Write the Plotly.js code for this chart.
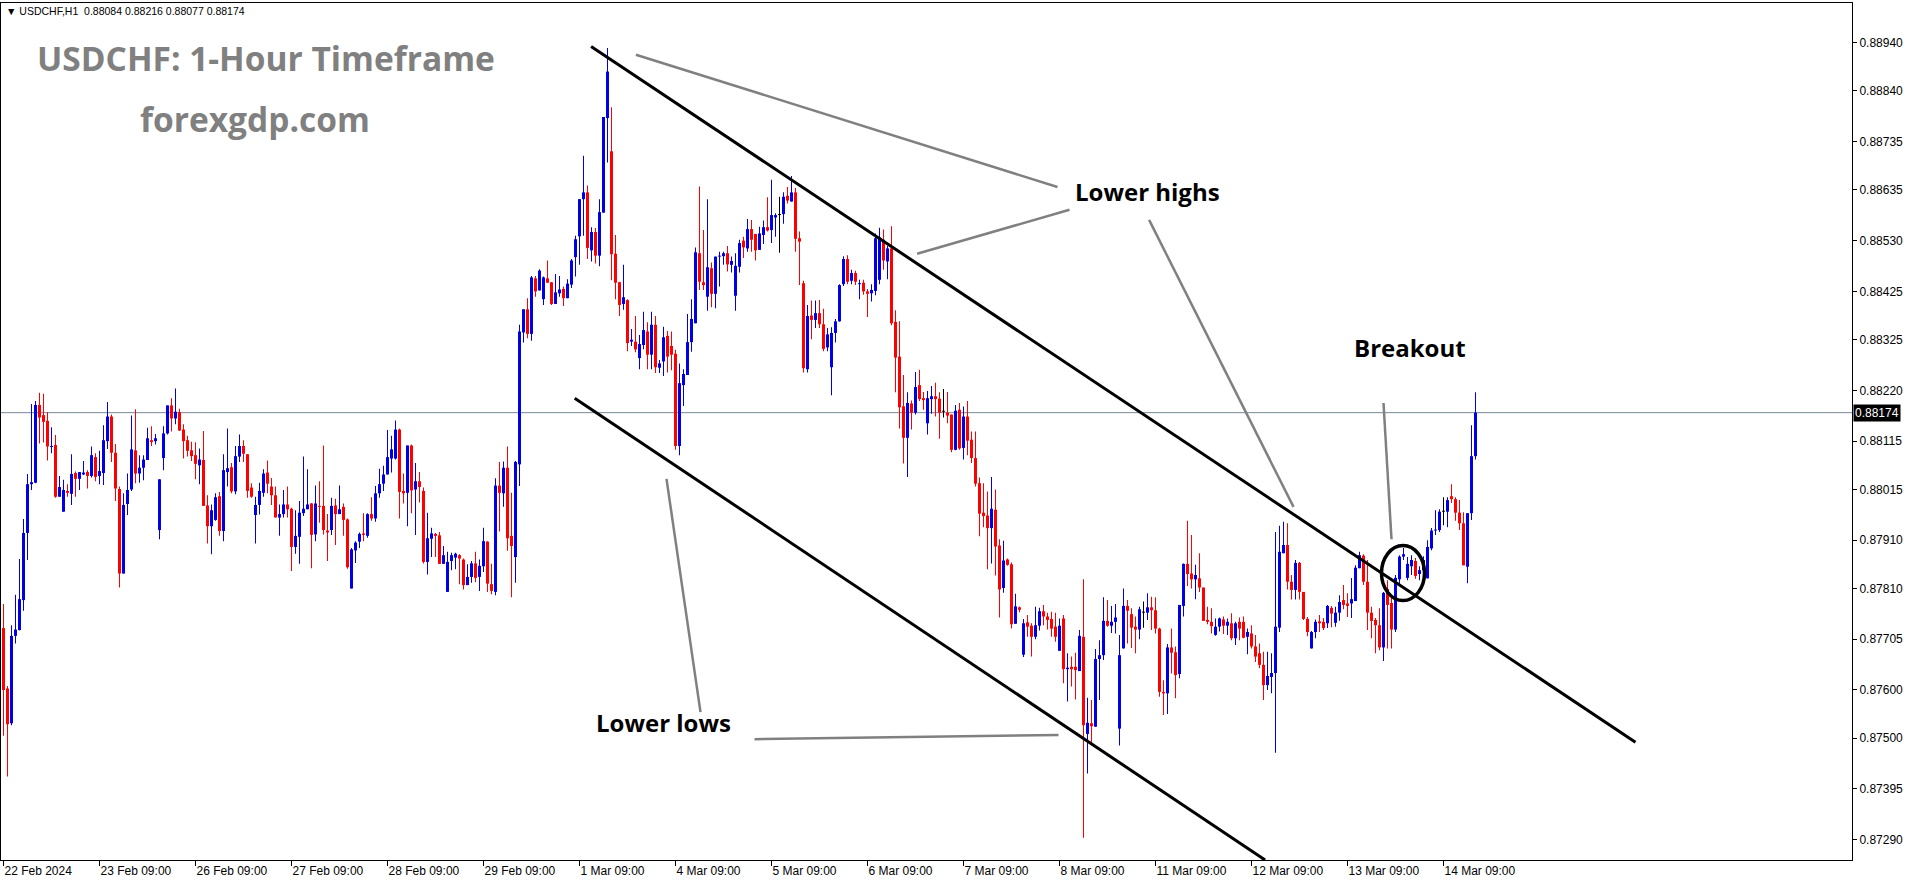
<!DOCTYPE html>
<html>
<head>
<meta charset="utf-8">
<script src="https://cdn.plot.ly/plotly-3.0.1.min.js"></script>
<style>
html,body{margin:0;padding:0;background:#ffffff;overflow:hidden}
#chart{width:1916px;height:884px}
</style>
</head>
<body>
<div id="chart"></div>
<script>
// ---- USDCHF H1 candles (22 Feb 2024 09:00 -> 14 Mar 2024) ----
const openP = [
0.87728,0.87603,0.87531,0.87712,0.87724,0.87786,0.87925,0.88026,0.88029,0.88190,0.88169,0.88157,
0.88103,0.88107,0.88000,0.87969,0.88012,0.88006,0.88049,0.88037,0.88046,0.88051,0.88043,0.88082,
0.88043,0.88049,0.88115,0.88166,0.88091,0.88016,0.87841,0.87985,0.88015,0.88096,0.88048,0.88060,
0.88076,0.88117,0.88115,0.87931,0.88080,0.88131,0.88189,0.88162,0.88175,0.88139,0.88117,0.88096,
0.88086,0.88065,0.88076,0.87982,0.87939,0.87952,0.88001,0.87929,0.88051,0.88061,0.88011,0.88083,
0.88105,0.88088,0.88019,0.87962,0.87983,0.88008,0.88050,0.88021,0.88003,0.87957,0.87964,0.87984,
0.87975,0.87896,0.87917,0.87966,0.87974,0.87986,0.87922,0.87981,0.87981,0.87930,0.87931,0.87982,
0.87964,0.87979,0.87953,0.87810,0.87889,0.87907,0.87924,0.87919,0.87964,0.87955,0.88007,0.88027,
0.88046,0.88079,0.88079,0.88139,0.88012,0.88008,0.88106,0.88015,0.88032,0.88012,0.87865,0.87913,
0.87923,0.87920,0.87861,0.87803,0.87867,0.87874,0.87879,0.87870,0.87817,0.87834,0.87862,0.87834,
0.87856,0.87907,0.87819,0.87803,0.88023,0.88007,0.88060,0.87919,0.87875,0.88067,0.88340,0.88388,
0.88337,0.88452,0.88427,0.88409,0.88452,0.88444,0.88399,0.88421,0.88430,0.88411,0.88439,0.88496,
0.88539,0.88616,0.88630,0.88510,0.88548,0.88499,0.88588,0.88784,0.88715,0.88503,0.88444,0.88399,
0.88407,0.88321,0.88321,0.88287,0.88314,0.88342,0.88294,0.88356,0.88267,0.88280,0.88333,0.88312,
0.88296,0.88105,0.88231,0.88252,0.88320,0.88359,0.88504,0.88444,0.88414,0.88473,0.88420,0.88497,
0.88498,0.88504,0.88480,0.88416,0.88476,0.88530,0.88514,0.88554,0.88544,0.88511,0.88542,0.88558,
0.88552,0.88578,0.88583,0.88585,0.88623,0.88611,0.88630,0.88535,0.88442,0.88264,0.88375,0.88366,
0.88380,0.88357,0.88309,0.88268,0.88339,0.88363,0.88440,0.88492,0.88447,0.88463,0.88440,0.88443,
0.88425,0.88421,0.88426,0.88449,0.88532,0.88487,0.88514,0.88362,0.88290,0.88187,0.88122,0.88193,
0.88174,0.88231,0.88204,0.88152,0.88202,0.88208,0.88203,0.88176,0.88174,0.88170,0.88097,0.88180,
0.88101,0.88166,0.88118,0.88080,0.88028,0.87967,0.87961,0.87935,0.87973,0.87899,0.87811,0.87870,
0.87860,0.87737,0.87771,0.87673,0.87740,0.87733,0.87710,0.87733,0.87763,0.87752,0.87747,0.87731,
0.87681,0.87748,0.87643,0.87648,0.87648,0.87639,0.87710,0.87509,0.87531,0.87524,0.87664,0.87672,
0.87743,0.87733,0.87741,0.87520,0.87686,0.87774,0.87757,0.87731,0.87725,0.87760,0.87760,0.87771,
0.87765,0.87727,0.87596,0.87593,0.87688,0.87678,0.87633,0.87774,0.87861,0.87841,0.87829,0.87831,
0.87812,0.87745,0.87741,0.87714,0.87731,0.87746,0.87733,0.87738,0.87707,0.87741,0.87741,0.87710,
0.87717,0.87690,0.87676,0.87652,0.87610,0.87627,0.87635,0.87729,0.87883,0.87900,0.87824,0.87807,
0.87863,0.87803,0.87747,0.87686,0.87720,0.87742,0.87741,0.87738,0.87770,0.87739,0.87760,0.87786,
0.87779,0.87779,0.87784,0.87852,0.87878,0.87824,0.87760,0.87745,0.87734,0.87688,0.87809,0.87780,
0.87725,0.87829,0.87876,0.87832,0.87856,0.87867,0.87840,0.87848,0.87831,0.87893,0.87930,0.87931,
0.87969,0.87969,0.88001,0.87995,0.87967,0.87945,0.87855,0.87966,0.88084
];
const highP = [
0.87778,0.87608,0.87734,0.87797,0.87871,0.87954,0.88047,0.88192,0.88198,0.88215,0.88213,0.88175,
0.88144,0.88128,0.88043,0.88035,0.88026,0.88088,0.88052,0.88051,0.88074,0.88055,0.88104,0.88090,
0.88095,0.88148,0.88196,0.88170,0.88109,0.88021,0.88007,0.88048,0.88168,0.88181,0.88086,0.88086,
0.88143,0.88146,0.88130,0.88036,0.88146,0.88189,0.88204,0.88224,0.88182,0.88150,0.88126,0.88114,
0.88113,0.88100,0.88136,0.88003,0.87984,0.88007,0.88010,0.88088,0.88141,0.88070,0.88105,0.88129,
0.88117,0.88088,0.88028,0.88000,0.88029,0.88057,0.88075,0.88039,0.88021,0.87984,0.88014,0.88021,
0.87977,0.87972,0.87991,0.88083,0.88057,0.87987,0.88023,0.88032,0.88106,0.87964,0.87998,0.87996,
0.88023,0.87986,0.87955,0.87894,0.87908,0.87926,0.87966,0.87966,0.87999,0.88022,0.88058,0.88064,
0.88138,0.88126,0.88158,0.88141,0.88048,0.88106,0.88108,0.88070,0.88051,0.88019,0.87967,0.87936,
0.87925,0.87927,0.87898,0.87886,0.87884,0.87884,0.87881,0.87872,0.87860,0.87867,0.87886,0.87870,
0.87936,0.87908,0.87861,0.88038,0.88072,0.88073,0.88104,0.88008,0.88074,0.88356,0.88388,0.88411,
0.88457,0.88457,0.88471,0.88456,0.88489,0.88444,0.88461,0.88457,0.88435,0.88450,0.88492,0.88540,
0.88616,0.88706,0.88644,0.88558,0.88556,0.88616,0.88786,0.88929,0.88806,0.88542,0.88445,0.88480,
0.88409,0.88347,0.88374,0.88335,0.88383,0.88361,0.88383,0.88374,0.88283,0.88352,0.88343,0.88342,
0.88304,0.88276,0.88264,0.88378,0.88409,0.88516,0.88642,0.88552,0.88616,0.88485,0.88497,0.88507,
0.88507,0.88519,0.88497,0.88504,0.88532,0.88538,0.88575,0.88573,0.88544,0.88559,0.88572,0.88620,
0.88656,0.88587,0.88621,0.88630,0.88641,0.88664,0.88639,0.88549,0.88447,0.88397,0.88406,0.88406,
0.88407,0.88389,0.88349,0.88351,0.88368,0.88440,0.88498,0.88500,0.88470,0.88468,0.88449,0.88449,
0.88430,0.88440,0.88545,0.88557,0.88553,0.88519,0.88560,0.88386,0.88363,0.88252,0.88216,0.88199,
0.88258,0.88263,0.88217,0.88219,0.88229,0.88236,0.88216,0.88223,0.88217,0.88170,0.88190,0.88194,
0.88187,0.88198,0.88135,0.88135,0.88040,0.88028,0.88011,0.88041,0.88015,0.87912,0.87909,0.87872,
0.87864,0.87799,0.87773,0.87747,0.87755,0.87738,0.87772,0.87770,0.87776,0.87760,0.87762,0.87760,
0.87748,0.87755,0.87676,0.87669,0.87677,0.87724,0.87829,0.87584,0.87579,0.87685,0.87703,0.87792,
0.87786,0.87774,0.87778,0.87714,0.87810,0.87786,0.87769,0.87752,0.87772,0.87783,0.87800,0.87793,
0.87792,0.87729,0.87620,0.87695,0.87727,0.87690,0.87776,0.87862,0.87950,0.87921,0.87859,0.87883,
0.87812,0.87772,0.87769,0.87748,0.87750,0.87752,0.87748,0.87759,0.87741,0.87750,0.87752,0.87727,
0.87734,0.87714,0.87696,0.87679,0.87679,0.87676,0.87927,0.87940,0.87948,0.87945,0.87838,0.87869,
0.87865,0.87803,0.87751,0.87722,0.87746,0.87755,0.87749,0.87776,0.87774,0.87772,0.87796,0.87817,
0.87800,0.87832,0.87858,0.87886,0.87881,0.87869,0.87772,0.87749,0.87769,0.87803,0.87827,0.87796,
0.87838,0.87879,0.87894,0.87875,0.87879,0.87873,0.87856,0.87877,0.87910,0.87935,0.87972,0.87974,
0.87999,0.87999,0.88026,0.87999,0.87993,0.87968,0.87966,0.88148,0.88216
];
const lowP = [
0.87505,0.87421,0.87527,0.87696,0.87723,0.87764,0.87869,0.88014,0.88028,0.88110,0.88112,0.88075,
0.88090,0.87998,0.88000,0.87969,0.88000,0.87983,0.88000,0.88014,0.88045,0.88017,0.88040,0.88032,
0.88026,0.88024,0.88099,0.88072,0.87991,0.87812,0.87841,0.87962,0.88012,0.88028,0.88029,0.88034,
0.88076,0.88105,0.88108,0.87912,0.88055,0.88129,0.88135,0.88150,0.88136,0.88079,0.88083,0.88074,
0.88036,0.88026,0.87981,0.87903,0.87881,0.87950,0.87919,0.87908,0.88021,0.88007,0.88005,0.88072,
0.88072,0.87998,0.87998,0.87903,0.87963,0.88000,0.88007,0.87983,0.87957,0.87919,0.87957,0.87957,
0.87846,0.87882,0.87861,0.87960,0.87974,0.87852,0.87908,0.87946,0.87922,0.87867,0.87921,0.87900,
0.87964,0.87919,0.87851,0.87810,0.87863,0.87894,0.87908,0.87915,0.87950,0.87948,0.87998,0.88012,
0.88046,0.88050,0.88077,0.87955,0.87986,0.87939,0.87966,0.87921,0.87988,0.87862,0.87839,0.87875,
0.87875,0.87861,0.87861,0.87803,0.87848,0.87850,0.87819,0.87808,0.87817,0.87822,0.87823,0.87805,
0.87844,0.87803,0.87798,0.87796,0.87928,0.87979,0.87888,0.87792,0.87822,0.88022,0.88319,0.88328,
0.88323,0.88414,0.88427,0.88397,0.88443,0.88397,0.88399,0.88414,0.88395,0.88411,0.88432,0.88456,
0.88480,0.88540,0.88492,0.88487,0.88483,0.88477,0.88588,0.88692,0.88448,0.88409,0.88374,0.88387,
0.88301,0.88312,0.88299,0.88264,0.88305,0.88264,0.88264,0.88256,0.88256,0.88250,0.88257,0.88262,
0.88097,0.88086,0.88188,0.88252,0.88300,0.88359,0.88428,0.88428,0.88385,0.88392,0.88390,0.88435,
0.88480,0.88466,0.88464,0.88385,0.88464,0.88494,0.88507,0.88507,0.88489,0.88511,0.88523,0.88549,
0.88525,0.88538,0.88505,0.88565,0.88607,0.88611,0.88507,0.88438,0.88257,0.88257,0.88326,0.88349,
0.88349,0.88301,0.88301,0.88210,0.88319,0.88362,0.88436,0.88440,0.88440,0.88438,0.88409,0.88418,
0.88372,0.88404,0.88417,0.88440,0.88470,0.88450,0.88355,0.88216,0.88141,0.88069,0.88041,0.88139,
0.88170,0.88198,0.88180,0.88129,0.88172,0.88166,0.88120,0.88164,0.88152,0.88092,0.88096,0.88097,
0.88077,0.88086,0.88070,0.88021,0.87918,0.87937,0.87850,0.87862,0.87837,0.87750,0.87801,0.87857,
0.87727,0.87737,0.87761,0.87668,0.87710,0.87669,0.87705,0.87723,0.87734,0.87725,0.87710,0.87700,
0.87681,0.87614,0.87576,0.87607,0.87580,0.87639,0.87294,0.87427,0.87489,0.87524,0.87579,0.87662,
0.87731,0.87718,0.87717,0.87485,0.87686,0.87696,0.87687,0.87676,0.87705,0.87729,0.87745,0.87724,
0.87717,0.87586,0.87548,0.87550,0.87634,0.87583,0.87624,0.87752,0.87815,0.87810,0.87788,0.87803,
0.87743,0.87736,0.87717,0.87712,0.87721,0.87716,0.87714,0.87703,0.87693,0.87703,0.87707,0.87674,
0.87686,0.87658,0.87645,0.87579,0.87600,0.87593,0.87470,0.87720,0.87883,0.87808,0.87787,0.87787,
0.87787,0.87745,0.87711,0.87686,0.87707,0.87720,0.87724,0.87728,0.87730,0.87731,0.87743,0.87767,
0.87751,0.87749,0.87784,0.87852,0.87817,0.87724,0.87707,0.87676,0.87682,0.87660,0.87686,0.87686,
0.87720,0.87817,0.87869,0.87827,0.87838,0.87830,0.87827,0.87836,0.87831,0.87889,0.87921,0.87927,
0.87941,0.87937,0.87987,0.87950,0.87931,0.87858,0.87821,0.87952,0.88077
];
const closeP = [
0.87600,0.87529,0.87712,0.87725,0.87788,0.87925,0.88026,0.88030,0.88190,0.88164,0.88155,0.88104,
0.88105,0.88000,0.88020,0.88014,0.88008,0.88047,0.88037,0.88051,0.88050,0.88043,0.88086,0.88041,
0.88053,0.88117,0.88166,0.88091,0.88017,0.87841,0.87983,0.88014,0.88098,0.88048,0.88060,0.88077,
0.88121,0.88113,0.88121,0.88036,0.88131,0.88189,0.88162,0.88176,0.88137,0.88115,0.88095,0.88084,
0.88068,0.88077,0.87981,0.87939,0.87972,0.87999,0.87929,0.88055,0.88059,0.88011,0.88084,0.88105,
0.88089,0.88012,0.88000,0.87983,0.88012,0.88048,0.88027,0.88003,0.87957,0.87964,0.87984,0.87974,
0.87896,0.87919,0.87967,0.87975,0.87984,0.87921,0.87986,0.87979,0.87931,0.87926,0.87981,0.87964,
0.87974,0.87952,0.87854,0.87891,0.87905,0.87923,0.87921,0.87964,0.87955,0.88007,0.88026,0.88046,
0.88082,0.88098,0.88139,0.88010,0.88007,0.88106,0.88013,0.88032,0.88020,0.87865,0.87914,0.87924,
0.87919,0.87861,0.87879,0.87865,0.87879,0.87882,0.87872,0.87817,0.87834,0.87862,0.87832,0.87857,
0.87908,0.87820,0.87805,0.88023,0.88008,0.88060,0.87914,0.87898,0.88072,0.88342,0.88388,0.88337,
0.88454,0.88425,0.88468,0.88454,0.88443,0.88399,0.88423,0.88429,0.88411,0.88441,0.88489,0.88533,
0.88616,0.88630,0.88515,0.88548,0.88499,0.88589,0.88786,0.88880,0.88502,0.88443,0.88397,0.88413,
0.88318,0.88325,0.88305,0.88316,0.88345,0.88294,0.88356,0.88268,0.88276,0.88330,0.88290,0.88294,
0.88105,0.88235,0.88254,0.88320,0.88368,0.88506,0.88445,0.88438,0.88475,0.88420,0.88497,0.88498,
0.88504,0.88481,0.88488,0.88478,0.88525,0.88516,0.88554,0.88532,0.88510,0.88545,0.88558,0.88551,
0.88583,0.88583,0.88583,0.88621,0.88613,0.88630,0.88534,0.88528,0.88266,0.88374,0.88366,0.88380,
0.88357,0.88306,0.88336,0.88339,0.88363,0.88438,0.88492,0.88445,0.88463,0.88445,0.88442,0.88425,
0.88420,0.88428,0.88535,0.88537,0.88489,0.88514,0.88359,0.88288,0.88185,0.88122,0.88194,0.88174,
0.88227,0.88202,0.88200,0.88204,0.88208,0.88202,0.88174,0.88176,0.88168,0.88097,0.88178,0.88100,
0.88166,0.88116,0.88080,0.88027,0.87965,0.87960,0.87935,0.87975,0.87897,0.87808,0.87868,0.87859,
0.87736,0.87773,0.87766,0.87738,0.87731,0.87710,0.87734,0.87763,0.87752,0.87745,0.87727,0.87710,
0.87733,0.87643,0.87646,0.87643,0.87641,0.87712,0.87527,0.87532,0.87525,0.87664,0.87672,0.87743,
0.87733,0.87741,0.87750,0.87672,0.87774,0.87764,0.87729,0.87725,0.87767,0.87760,0.87771,0.87765,
0.87727,0.87596,0.87593,0.87688,0.87677,0.87631,0.87776,0.87861,0.87840,0.87829,0.87838,0.87812,
0.87743,0.87741,0.87732,0.87731,0.87748,0.87733,0.87741,0.87707,0.87738,0.87727,0.87708,0.87720,
0.87690,0.87669,0.87652,0.87610,0.87629,0.87635,0.87731,0.87886,0.87900,0.87824,0.87807,0.87863,
0.87803,0.87747,0.87720,0.87720,0.87741,0.87738,0.87728,0.87774,0.87758,0.87760,0.87782,0.87776,
0.87774,0.87788,0.87853,0.87879,0.87824,0.87760,0.87743,0.87734,0.87688,0.87801,0.87776,0.87725,
0.87832,0.87876,0.87881,0.87861,0.87869,0.87836,0.87848,0.87869,0.87896,0.87930,0.87932,0.87969,
0.87969,0.87993,0.87995,0.87967,0.87945,0.87858,0.87966,0.88084,0.88174
];

// time axis: one label every 24 bars
const xTickBars   = [0,24,48,72,96,120,144,168,192,216,240,264,288,312,336,360];
const xTickLabels = ['22 Feb 2024','23 Feb 09:00','26 Feb 09:00','27 Feb 09:00','28 Feb 09:00','29 Feb 09:00',
                     '1 Mar 09:00','4 Mar 09:00','5 Mar 09:00','6 Mar 09:00','7 Mar 09:00','8 Mar 09:00',
                     '11 Mar 09:00','12 Mar 09:00','13 Mar 09:00','14 Mar 09:00'];
// price axis labels
const yTickValues = [0.88940,0.88840,0.88735,0.88635,0.88530,0.88425,0.88325,0.88220,0.88115,
                     0.88015,0.87910,0.87810,0.87705,0.87600,0.87500,0.87395,0.87290];
const lastPrice = 0.88174;
const headerText = '\u25BC USDCHF,H1\u00a0\u00a00.88084 0.88216 0.88077 0.88174';
const titleText = 'USDCHF: 1-Hour Timeframe';
const siteText = 'forexgdp.com';

// ---- build candle parts ----
const BULL = '#0000e6', BEAR = '#ff0000', DOJI = '#000000';
const idx = openP.map((_, i) => i);
const colors = idx.map(i => closeP[i] > openP[i] ? BULL : (closeP[i] < openP[i] ? BEAR : DOJI));
const wickBase = lowP.slice();
const wickLen = idx.map(i => highP[i] - lowP[i]);
const bodyBase = idx.map(i => Math.min(openP[i], closeP[i]));
const bodyLen = idx.map(i => Math.max(Math.abs(closeP[i] - openP[i]), 0.00002));

const wicks = {type:'bar', x:idx, y:wickLen, base:wickBase, width:0.25,
  marker:{color:colors, line:{width:0}}, hoverinfo:'skip', showlegend:false};
const bodies = {type:'bar', x:idx, y:bodyLen, base:bodyBase, width:0.75,
  marker:{color:colors, line:{width:0}}, hoverinfo:'skip', showlegend:false};

// ---- drawn objects (anchored in bar index / price) ----
const blackLine = {color:'#000000', width:3};
const greyLine = {color:'#808080', width:2.5};
const shapes = [
  {type:'line', xref:'paper', yref:'y', x0:0, x1:1, y0:lastPrice, y1:lastPrice, line:{color:'#778899', width:1}, layer:'below'},
  {type:'line', xref:'x', yref:'y', x0:146.9, y0:0.88932, x1:408.0, y1:0.87492, line:blackLine},
  {type:'line', xref:'x', yref:'y', x0:142.8, y0:0.88204, x1:315.4, y1:0.87248, line:blackLine},
  {type:'line', xref:'x', yref:'y', x0:158.1, y0:0.88915, x1:263.5, y1:0.88641, line:greyLine},
  {type:'line', xref:'x', yref:'y', x0:228.4, y0:0.88503, x1:266.5, y1:0.88594, line:greyLine},
  {type:'line', xref:'x', yref:'y', x0:286.4, y0:0.88573, x1:322.5, y1:0.87979, line:greyLine},
  {type:'line', xref:'x', yref:'y', x0:187.75, y0:0.87498, x1:263.75, y1:0.87507, line:greyLine},
  {type:'line', xref:'x', yref:'y', x0:165.75, y0:0.88037, x1:174.25, y1:0.87554, line:greyLine},
  {type:'line', xref:'x', yref:'y', x0:345.0, y0:0.88194, x1:347.0, y1:0.87912, line:greyLine},
  {type:'circle', xref:'x', yref:'y', x0:344.5, x1:355.25, y0:0.87785, y1:0.87899, line:{color:'#000000', width:3.5}}
];

const labelFont = {family:'Open Sans, Noto Sans, sans-serif', size:24, color:'#000000'};
const annotations = [
  {xref:'paper', yref:'paper', x:0, xshift:3, y:0.9907, xanchor:'left', yanchor:'middle', showarrow:false,
   text:headerText, font:{family:'Liberation Sans, Arial, sans-serif', size:10.5, color:'#000000'}},
  {xref:'paper', yref:'paper', x:0.1432, y:0.9358, xanchor:'center', yanchor:'middle', showarrow:false,
   text:'<b>' + titleText + '</b>', font:{family:'Open Sans, Noto Sans, sans-serif', size:33.5, color:'#808080'}},
  {xref:'paper', yref:'paper', x:0.1371, y:0.8646, xanchor:'center', yanchor:'middle', showarrow:false,
   text:'<b>' + siteText + '</b>', font:{family:'Open Sans, Noto Sans, sans-serif', size:33.5, color:'#808080'}},
  {xref:'x', yref:'y', x:286.1, y:0.88631, showarrow:false, text:'<b>Lower highs</b>', font:labelFont},
  {xref:'x', yref:'y', x:165.1, y:0.87533, showarrow:false, text:'<b>Lower lows</b>', font:labelFont},
  {xref:'x', yref:'y', x:351.5, y:0.88308, showarrow:false, text:'<b>Breakout</b>', font:labelFont},
  {xref:'paper', yref:'y', x:1, xshift:1, y:lastPrice, xanchor:'left', yanchor:'middle', showarrow:false,
   text:lastPrice.toFixed(5), bgcolor:'#000000', borderpad:1,
   font:{family:'Liberation Sans, Arial, sans-serif', size:12, color:'#ffffff'}}
];

const layout = {
  width:1916, height:884,
  margin:{l:1, r:64, t:3, b:24, pad:0},
  paper_bgcolor:'#ffffff', plot_bgcolor:'#ffffff',
  showlegend:false, barmode:'overlay', hovermode:false,
  font:{family:'Liberation Sans, Arial, sans-serif', size:12, color:'#000000'},
  xaxis:{range:[-0.625, 462.125], tickmode:'array', tickvals:xTickBars, ticktext:xTickLabels,
    ticks:'outside', ticklen:5, tickwidth:1, tickcolor:'#000000', ticklabelposition:'outside right',
    showline:true, linecolor:'#000000', linewidth:1, mirror:true, showgrid:false, zeroline:false,
    tickfont:{family:'Liberation Sans, Arial, sans-serif', size:12, color:'#000000'}, fixedrange:true},
  yaxis:{range:[0.87248, 0.89022], side:'right', tickmode:'array', tickvals:yTickValues,
    ticktext:yTickValues.map(v => v.toFixed(5)),
    ticks:'outside', ticklen:4, tickwidth:1, tickcolor:'#000000',
    showline:true, linecolor:'#000000', linewidth:1, mirror:true, showgrid:false, zeroline:false,
    tickfont:{family:'Liberation Sans, Arial, sans-serif', size:12, color:'#000000'}, fixedrange:true},
  shapes:shapes,
  annotations:annotations
};

Plotly.newPlot('chart', [wicks, bodies], layout, {staticPlot:true, displayModeBar:false});
</script>
</body>
</html>
